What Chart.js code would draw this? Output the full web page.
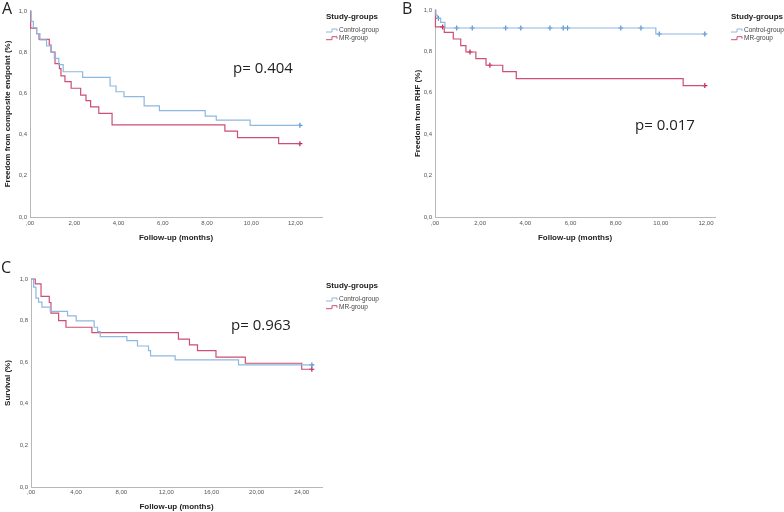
<!DOCTYPE html>
<html>
<head>
<meta charset="utf-8">
<script src="https://cdn.jsdelivr.net/npm/chart.js@4.4.1/dist/chart.umd.min.js"></script>
<style>
  body { margin: 0; background: #fff; width: 784px; height: 512px; overflow: hidden; position: relative; }
  canvas { position: absolute; }
</style>
</head>
<body>
<canvas id="chartA" width="390" height="250" style="left:0;top:0"></canvas>
<canvas id="chartB" width="394" height="250" style="left:390px;top:0"></canvas>
<canvas id="chartC" width="390" height="262" style="left:0;top:250px"></canvas>
<script>
// Kaplan-Meier curves: time in months, survival fraction
const groupNames = ['Control-group', 'MR-group'];
const yTicks = [0, 0.2, 0.4, 0.6, 0.8, 1.0];
const xTicks12 = [0, 2, 4, 6, 8, 10, 12];
const xTicks24 = [0, 4, 8, 12, 16, 20, 24];
const pTexts = ['p= 0.404', 'p= 0.017', 'p= 0.963'];

// A - composite endpoint
const aCtrlT = [0, 0.05, 0.15, 0.3, 0.45, 0.75, 0.95, 1.1, 1.3, 1.5, 2.38, 3.62, 3.89, 4.25, 5.16, 5.85, 7.92, 8.42, 9.95, 12.2];
const aCtrlS = [1.0, 0.95, 0.92, 0.89, 0.86, 0.83, 0.80, 0.77, 0.74, 0.705, 0.678, 0.636, 0.608, 0.584, 0.539, 0.516, 0.49, 0.47, 0.445, 0.445];
const aMrT = [0, 0.03, 0.30, 0.41, 0.87, 0.95, 1.13, 1.33, 1.40, 1.58, 1.86, 2.29, 2.53, 2.74, 3.11, 3.71, 8.81, 9.38, 11.24, 12.2];
const aMrS = [1.0, 0.917, 0.89, 0.862, 0.835, 0.80, 0.745, 0.72, 0.685, 0.657, 0.625, 0.592, 0.565, 0.535, 0.503, 0.447, 0.417, 0.385, 0.356, 0.356];
const aCtrlCens = [12.2];
const aMrCens = [12.2];

// B - RHF
const bCtrlT = [0, 0.04, 0.1, 0.25, 0.44, 9.78, 11.95];
const bCtrlS = [1.0, 0.975, 0.96, 0.94, 0.913, 0.884, 0.884];
const bMrT = [0, 0.02, 0.41, 0.81, 1.14, 1.37, 1.81, 2.26, 3.0, 3.6, 10.99, 11.95];
const bMrS = [1.0, 0.918, 0.892, 0.86, 0.828, 0.797, 0.765, 0.733, 0.702, 0.668, 0.635, 0.635];
const bCtrlCens = [0.15, 0.96, 1.65, 3.13, 3.8, 5.09, 5.68, 5.87, 8.23, 9.12, 9.93, 11.95];
const bMrCens = [0.34, 1.55, 2.43, 11.95];

// C - survival
const cCtrlT = [0, 0.23, 0.44, 0.67, 0.97, 1.71, 3.24, 4.01, 5.6, 5.9, 6.14, 8.5, 9.44, 10.42, 10.6, 12.78, 18.4, 24.9];
const cCtrlS = [1.0, 0.961, 0.908, 0.889, 0.865, 0.844, 0.823, 0.799, 0.768, 0.747, 0.723, 0.704, 0.678, 0.656, 0.630, 0.611, 0.587, 0.587];
const cMrT = [0, 0.38, 0.89, 1.62, 1.77, 2.45, 3.1, 5.4, 13.07, 14.05, 14.76, 16.4, 19.0, 24.0, 24.9];
const cMrS = [1.0, 0.977, 0.916, 0.887, 0.836, 0.80, 0.768, 0.742, 0.711, 0.683, 0.656, 0.624, 0.595, 0.566, 0.566];
const cCtrlCens = [24.9];
const cMrCens = [24.9];

const lineColors = ['#8db8df', '#cc4f74'];
const markColors = ['#4d8ecf', '#c11f48'];
const sans = '"Liberation Sans", Arial, sans-serif';

// valore della curva a gradini al tempo t
const stepValue = (times, surv, t) => {
  let v = surv[0];
  for (let i = 0; i < times.length; i++) if (times[i] <= t) v = surv[i];
  return v;
};

const lineDs = (times, surv, color) => ({
  data: times.map((t, i) => ({ x: t, y: surv[i] })),
  showLine: true, stepped: true, borderColor: color, borderWidth: 1.2,
  pointRadius: 0, fill: false, clip: false
});

const censorDs = (cens, times, surv, color) => ({
  data: cens.map(t => ({ x: t, y: stepValue(times, surv, t) })),
  showLine: false, pointStyle: 'cross', pointRadius: 2.5, borderColor: color,
  borderWidth: 1.2, clip: false
});

const overlayPlugin = {
  id: 'overlay',
  afterDraw(chart, args, o) {
    const ctx = chart.ctx;
    ctx.save();
    ctx.textAlign = 'left';
    ctx.textBaseline = 'middle';
    ctx.fillStyle = '#222';
    ctx.font = '16px "Open Sans"';
    ctx.fillText(o.letter, o.letterX, o.letterY);
    ctx.font = '15px "Open Sans"';
    ctx.fillText(o.pText, o.pX, o.pY);
    // legenda
    ctx.font = 'bold 8px ' + sans;
    ctx.fillStyle = '#222';
    ctx.fillText('Study-groups', o.legX, o.legY);
    groupNames.forEach((name, i) => {
      const y = o.legY + 13.5 + i * 7.7;
      const x = o.legX;
      ctx.strokeStyle = lineColors[i];
      ctx.lineWidth = 1;
      ctx.beginPath();
      ctx.moveTo(x, y + 1.5);
      ctx.lineTo(x + 6, y + 1.5);
      ctx.lineTo(x + 6, y - 1.5);
      ctx.lineTo(x + 11, y - 1.5);
      ctx.lineTo(x + 11, y + 0.5);
      ctx.stroke();
      ctx.fillStyle = '#444';
      ctx.font = '6.5px ' + sans;
      ctx.fillText(name, x + 13, y);
    });
    ctx.restore();
  }
};

const fmtX = v => v === 0 ? ',00' : v.toFixed(2).replace('.', ',');
const fmtY = v => v.toFixed(1).replace('.', ',');

const makeChart = (id, c) => new Chart(document.getElementById(id), {
  type: 'scatter',
  data: {
    datasets: [
      lineDs(c.ctrl[0], c.ctrl[1], lineColors[0]),
      lineDs(c.mr[0], c.mr[1], lineColors[1]),
      censorDs(c.ctrlCens, c.ctrl[0], c.ctrl[1], markColors[0]),
      censorDs(c.mrCens, c.mr[0], c.mr[1], markColors[1])
    ]
  },
  options: {
    responsive: false,
    animation: false,
    layout: { padding: c.pad },
    plugins: {
      legend: { display: false },
      tooltip: { enabled: false },
      overlay: c.overlay
    },
    scales: {
      x: {
        type: 'linear', min: 0, max: c.xMax,
        grid: { display: false, drawTicks: false },
        border: { color: '#b8b8b8', width: 1 },
        afterBuildTicks: s => { s.ticks = c.xTicks.map(v => ({ value: v })); },
        afterFit: s => { s.height = c.xH; },
        ticks: { autoSkip: false, maxRotation: 0, padding: c.xTickPad, color: '#555', font: { size: 6, family: sans }, callback: fmtX },
        title: { display: true, text: 'Follow-up (months)', color: '#222', font: { size: 8, weight: 'bold', family: sans }, padding: { top: 0, bottom: c.xTitlePad } }
      },
      y: {
        type: 'linear', min: 0, max: 1,
        grid: { display: false, drawTicks: false },
        border: { color: '#b8b8b8', width: 1 },
        afterBuildTicks: s => { s.ticks = yTicks.map(v => ({ value: v })); },
        afterFit: s => { s.width = c.yW; },
        ticks: { autoSkip: false, padding: 3, color: '#555', font: { size: 6, family: sans }, callback: fmtY },
        title: { display: true, text: c.yTitle, color: '#222', font: { size: 8, weight: 'bold', family: sans }, padding: { top: 3, bottom: 0 } }
      }
    }
  },
  plugins: [overlayPlugin]
});

makeChart('chartA', {
  ctrl: [aCtrlT, aCtrlS], mr: [aMrT, aMrS], ctrlCens: aCtrlCens, mrCens: aMrCens,
  xMax: 13.2, xTicks: xTicks12, yTitle: 'Freedom from composite endpoint (%)',
  pad: { left: 0, top: 11, right: 68, bottom: 0 }, yW: 30, xH: 33, xTickPad: 3, xTitlePad: 7,
  overlay: { letter: 'A', letterX: 2, letterY: 9, pText: pTexts[0], pX: 233, pY: 69, legX: 326, legY: 17 }
});

makeChart('chartB', {
  ctrl: [bCtrlT, bCtrlS], mr: [bMrT, bMrS], ctrlCens: bCtrlCens, mrCens: bMrCens,
  xMax: 12.4, xTicks: xTicks12, yTitle: 'Freedom from RHF (%)',
  pad: { left: 20, top: 10, right: 69, bottom: 0 }, yW: 25, xH: 33, xTickPad: 3, xTitlePad: 7,
  overlay: { letter: 'B', letterX: 12, letterY: 9, pText: pTexts[1], pX: 245, pY: 126, legX: 341, legY: 17 }
});

makeChart('chartC', {
  ctrl: [cCtrlT, cCtrlS], mr: [cMrT, cMrS], ctrlCens: cCtrlCens, mrCens: cMrCens,
  xMax: 25.8, xTicks: xTicks24, yTitle: 'Survival (%)',
  pad: { left: 0, top: 29, right: 68, bottom: 0 }, yW: 31, xH: 25, xTickPad: 2, xTitlePad: 0,
  overlay: { letter: 'C', letterX: 1, letterY: 18, pText: pTexts[2], pX: 231, pY: 76, legX: 326, legY: 36 }
});
</script>
</body>
</html>
